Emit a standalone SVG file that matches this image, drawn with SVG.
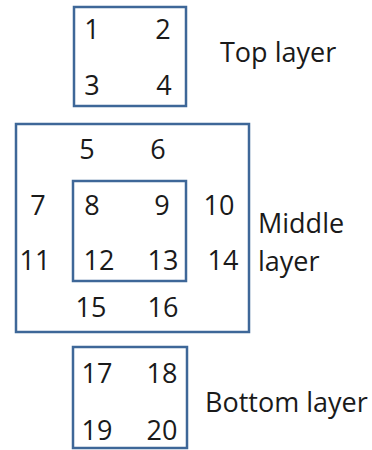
<svg xmlns="http://www.w3.org/2000/svg" width="372" height="450" viewBox="0 0 372 450">
<style>
.b{fill:none;stroke:#3E6798;stroke-width:2.5}
text{font-family:"Open Sans","Liberation Sans",sans-serif;font-size:27px;fill:#1a1a1a;text-anchor:middle}
.l{text-anchor:start}
</style>
<rect width="372" height="450" fill="#fff"/>
<g id="top">
<rect class="b" x="74" y="7" width="112" height="99"/>
<text x="92" y="39">1</text><text x="163" y="39">2</text>
<text x="92" y="95">3</text><text x="164" y="95">4</text>
</g>
<g id="middle">
<rect class="b" x="16" y="124" width="233" height="208"/>
<text x="87" y="159">5</text><text x="158" y="159">6</text>
<text x="38" y="215">7</text><text x="219" y="215">10</text>
<text x="35" y="270">11</text><text x="223" y="270">14</text>
<text x="91" y="317">15</text><text x="163" y="317">16</text>
</g>
<g id="inner">
<rect class="b" x="73" y="181" width="113" height="100"/>
<text x="92" y="215">8</text><text x="162" y="215">9</text>
<text x="99" y="270">12</text><text x="163" y="270">13</text>
</g>
<g id="bottom">
<rect class="b" x="73" y="347" width="114" height="101"/>
<text x="97" y="383">17</text><text x="162" y="383">18</text>
<text x="97" y="440">19</text><text x="162" y="440">20</text>
</g>
<g id="labels">
<text class="l" x="220" y="62">Top layer</text>
<text class="l" x="258" y="233">Middle</text>
<text class="l" x="258" y="271">layer</text>
<text class="l" x="205" y="412">Bottom layer</text>
</g>
</svg>
